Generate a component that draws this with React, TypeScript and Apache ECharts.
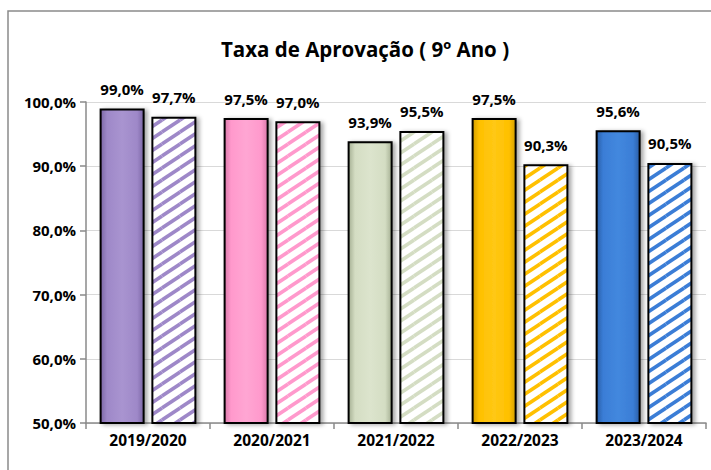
import React, { useEffect, useRef } from "react";
import * as echarts from "echarts";

const categories = ["2019/2020", "2020/2021", "2021/2022", "2022/2023", "2023/2024"];
const solidValues = [99.0, 97.5, 93.9, 97.5, 95.6];
const hatchedValues = [97.7, 97.0, 95.5, 90.3, 90.5];
const barColors = ["#9E88C8", "#FF99CC", "#D4DDC3", "#FFC000", "#3A7DD6"];
const darkColors = ["#7C67A6", "#D97AAA", "#A6B094", "#D49F00", "#2A5EA6"];
const lightColors = ["#A994D0", "#FFA6D3", "#DCE4CD", "#FFC814", "#4388DE"];
const yMin = 50;
const yMax = 100;
const yStep = 10;

const FONT = "'Open Sans', sans-serif";
const fmt = (v: number) => v.toFixed(1).replace(".", ",") + "%";

function stripeTile(color: string) {
  const w = 18;
  const h = 12;
  const c = document.createElement("canvas");
  c.width = w;
  c.height = h;
  const g = c.getContext("2d")!;
  g.fillStyle = "#FFFFFF";
  g.fillRect(0, 0, w, h);
  g.strokeStyle = color;
  g.lineWidth = 3.6;
  for (const dx of [-w, 0, w]) {
    for (const dy of [-h, 0, h]) {
      g.beginPath();
      g.moveTo(dx, h + dy);
      g.lineTo(w + dx, dy);
      g.stroke();
    }
  }
  return c;
}

export default function App() {
  const ref = useRef<HTMLDivElement>(null);
  useEffect(() => {
    if (!ref.current) return;
    const chart = echarts.init(ref.current, null, { renderer: "svg" });

    const solidData = solidValues.map((v, i) => ({
      value: v,
      itemStyle: {
        color: new echarts.graphic.LinearGradient(0, 0, 1, 0, [
          { offset: 0, color: darkColors[i] },
          { offset: 0.15, color: barColors[i] },
          { offset: 0.5, color: lightColors[i] },
          { offset: 0.85, color: barColors[i] },
          { offset: 1, color: darkColors[i] },
        ]),
      },
    }));

    const hatchedData = hatchedValues.map((v, i) => ({
      value: v,
      itemStyle: {
        color: { image: stripeTile(barColors[i]), repeat: "repeat" },
      },
    }));

    const labelCfg = {
      show: true,
      position: "top" as const,
      distance: 12,
      formatter: (p: any) => fmt(p.value),
      fontFamily: FONT,
      fontWeight: "bold" as const,
      fontSize: 15,
      color: "#000",
    };

    const commonItem = {
      borderColor: "#000",
      borderWidth: 2,
      shadowColor: "rgba(0,0,0,0.35)",
      shadowBlur: 4,
      shadowOffsetX: 3,
      shadowOffsetY: 1,
    };

    chart.setOption({
      animation: false,
      title: {
        text: "Taxa de Aprovação ( 9º Ano )",
        left: 360,
        textAlign: "center",
        top: 33,
        textStyle: { fontFamily: FONT, fontWeight: "bold", fontSize: 20.5, color: "#000" },
      },
      graphic: [
        {
          type: "rect",
          shape: { x: 8, y: 11, width: 720, height: 480 },
          style: { fill: "none", stroke: "#8A8A8A", lineWidth: 1.5 },
          silent: true,
        },
      ],
      grid: { left: 86, right: 5, top: 102, bottom: 47 },
      xAxis: {
        type: "category",
        data: categories,
        axisLine: { lineStyle: { color: "#8A8A8A", width: 1.5 } },
        axisTick: { show: true, length: 6, lineStyle: { color: "#8A8A8A", width: 1.5 } },
        axisLabel: {
          fontFamily: FONT,
          fontWeight: "bold",
          fontSize: 15.5,
          color: "#000",
          margin: 9,
        },
      },
      yAxis: {
        type: "value",
        min: yMin,
        max: yMax,
        interval: yStep,
        axisLine: { show: true, lineStyle: { color: "#8A8A8A", width: 1.5 } },
        axisTick: { show: true, length: 6, lineStyle: { color: "#8A8A8A", width: 1.5 } },
        splitLine: { lineStyle: { color: "#D9D9D9", width: 1 } },
        axisLabel: {
          formatter: (v: number) => fmt(v),
          fontFamily: FONT,
          fontWeight: "bold",
          fontSize: 15,
          color: "#000",
          margin: 10,
        },
      },
      series: [
        {
          type: "bar",
          data: solidData,
          barWidth: 45,
          barGap: "15%",
          itemStyle: commonItem,
          label: labelCfg,
        },
        {
          type: "bar",
          data: hatchedData,
          barWidth: 45,
          barGap: "15%",
          itemStyle: commonItem,
          label: labelCfg,
        },
      ],
    });
    return () => chart.dispose();
  }, []);
  return (
    <div
      ref={ref}
      style={{ position: "fixed", left: 0, top: 0, width: 711, height: 470, background: "#fff" }}
    />
  );
}
